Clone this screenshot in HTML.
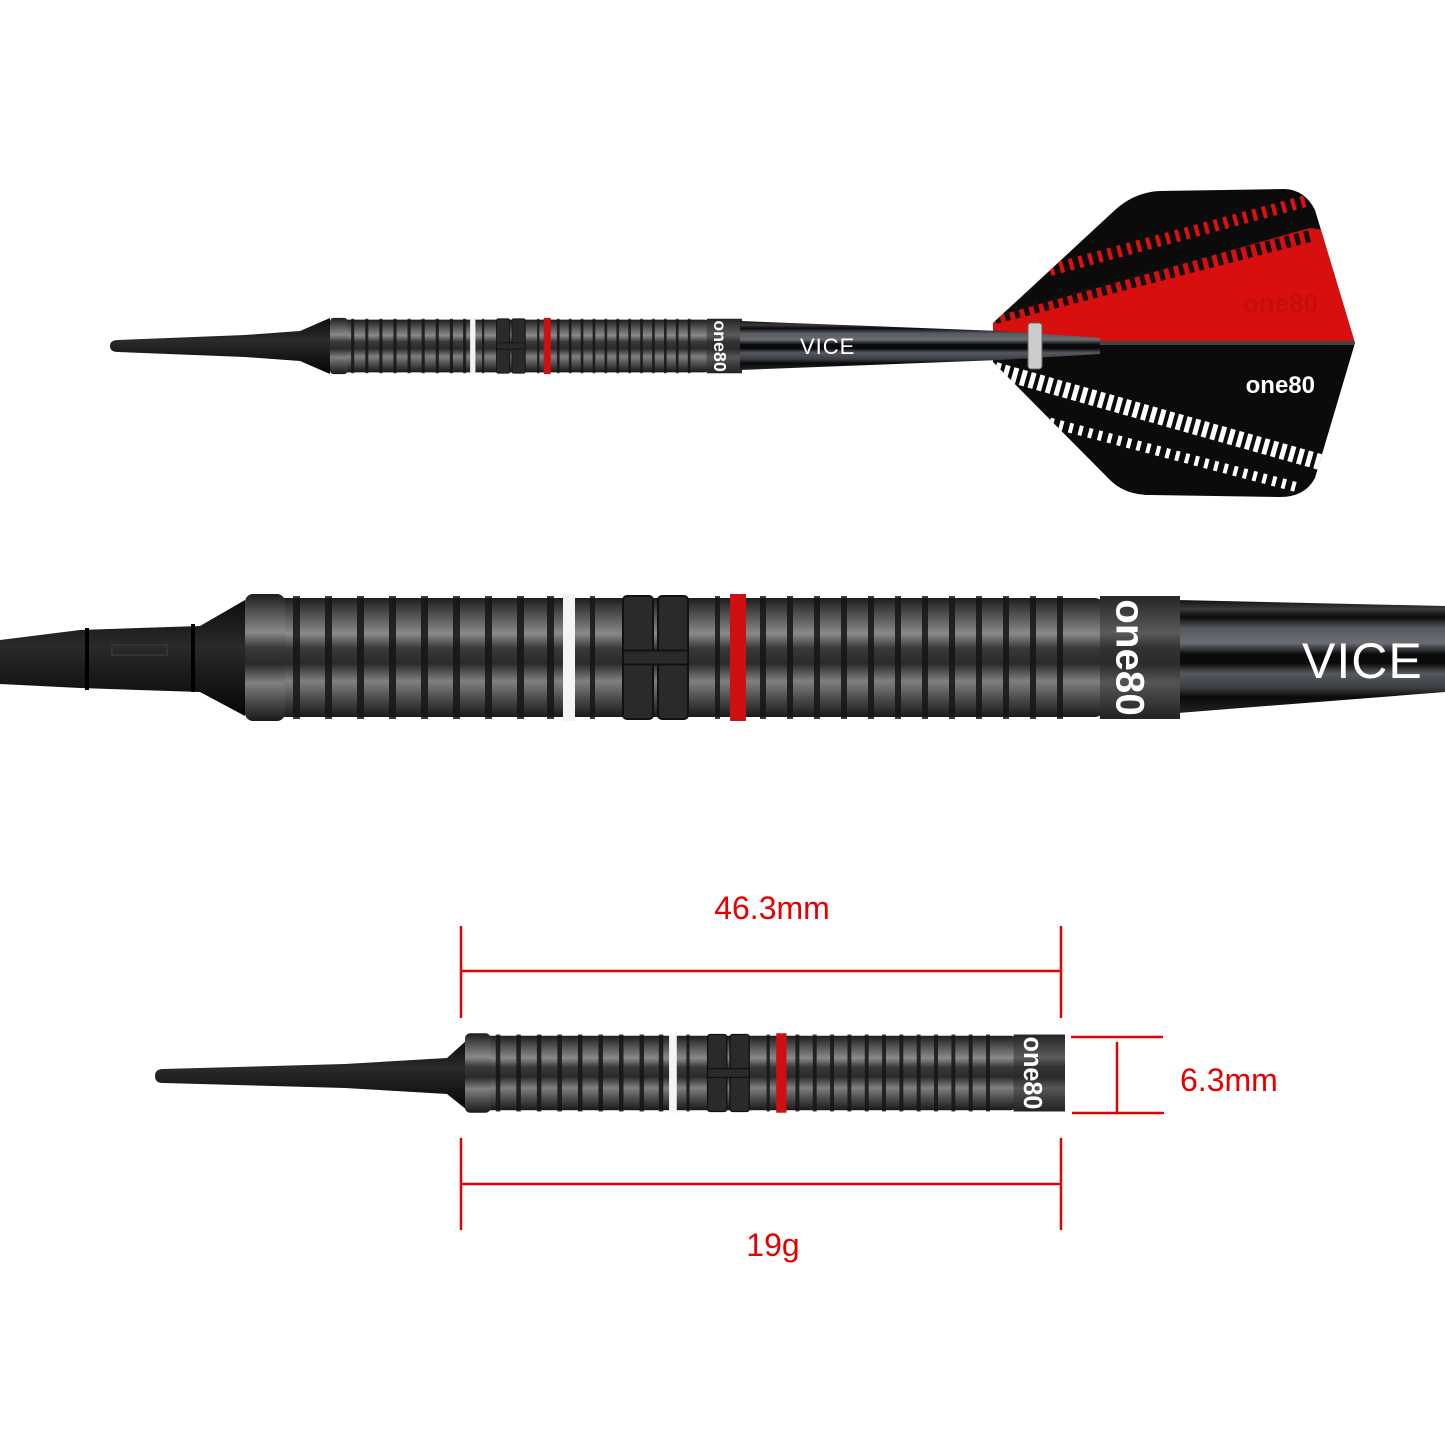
<!DOCTYPE html>
<html><head><meta charset="utf-8"><style>
html,body{margin:0;padding:0;background:#fff;}
svg{display:block;}
</style></head><body>
<svg width="1445" height="1445" viewBox="0 0 1445 1445" xmlns="http://www.w3.org/2000/svg">
<defs>
  <linearGradient id="metal" x1="0" y1="0" x2="0" y2="1">
    <stop offset="0" stop-color="#1e1e1e"/>
    <stop offset="0.12" stop-color="#4a4a4a"/>
    <stop offset="0.3" stop-color="#8a8a8a"/>
    <stop offset="0.42" stop-color="#3a3a3a"/>
    <stop offset="0.55" stop-color="#2a2a2a"/>
    <stop offset="0.7" stop-color="#808080"/>
    <stop offset="0.85" stop-color="#4a4a4a"/>
    <stop offset="1" stop-color="#1a1a1a"/>
  </linearGradient>
  <linearGradient id="shaft" x1="0" y1="0" x2="0" y2="1">
    <stop offset="0" stop-color="#111"/>
    <stop offset="0.08" stop-color="#3a3a3a"/>
    <stop offset="0.15" stop-color="#0a0a0a"/>
    <stop offset="0.25" stop-color="#555a60"/>
    <stop offset="0.38" stop-color="#6a6e72"/>
    <stop offset="0.48" stop-color="#0a0a0a"/>
    <stop offset="0.56" stop-color="#0a0a0a"/>
    <stop offset="0.65" stop-color="#555a60"/>
    <stop offset="0.78" stop-color="#3a3d40"/>
    <stop offset="0.86" stop-color="#0a0a0a"/>
    <stop offset="1" stop-color="#222"/>
  </linearGradient>
  <linearGradient id="tipg" x1="0" y1="0" x2="0" y2="1">
    <stop offset="0" stop-color="#0d0d0d"/>
    <stop offset="0.4" stop-color="#2a2a2a"/>
    <stop offset="1" stop-color="#050505"/>
  </linearGradient>
  <symbol id="barrel" viewBox="0 0 935 130" preserveAspectRatio="none">
    <rect x="0" y="6" width="860" height="118" rx="10" fill="url(#metal)"/>
    <rect x="0" y="2" width="40" height="126" rx="8" fill="url(#metal)"/>
    <g fill="#151515" opacity="0.85">
      <rect x="48" y="4" width="7" height="122"/><rect x="80" y="4" width="7" height="122"/>
      <rect x="112" y="4" width="7" height="122"/><rect x="144" y="4" width="7" height="122"/>
      <rect x="176" y="4" width="7" height="122"/><rect x="208" y="4" width="7" height="122"/>
      <rect x="240" y="4" width="7" height="122"/><rect x="272" y="4" width="7" height="122"/>
      <rect x="302" y="4" width="7" height="122"/>
      <rect x="345" y="4" width="5" height="122"/><rect x="470" y="4" width="5" height="122"/>
      <rect x="515" y="4" width="6" height="122"/><rect x="542" y="4" width="6" height="122"/>
      <rect x="569" y="4" width="6" height="122"/><rect x="596" y="4" width="6" height="122"/>
      <rect x="623" y="4" width="6" height="122"/><rect x="650" y="4" width="6" height="122"/>
      <rect x="677" y="4" width="6" height="122"/><rect x="704" y="4" width="6" height="122"/>
      <rect x="731" y="4" width="6" height="122"/><rect x="758" y="4" width="6" height="122"/>
      <rect x="785" y="4" width="6" height="122"/><rect x="812" y="4" width="6" height="122"/>
    </g>
    <g fill="#2a2a2a" stroke="#111" stroke-width="2">
      <rect x="378" y="4" width="30" height="122" rx="4"/>
      <rect x="413" y="4" width="30" height="122" rx="4"/>
      <rect x="378" y="58" width="65" height="14"/>
    </g>
    <rect x="318" y="2" width="12" height="126" fill="#f4f4f4"/>
    <rect x="485" y="2" width="16" height="126" fill="#d01010"/>
    <rect x="855" y="4" width="80" height="122" fill="#2b2b2b"/>
    <rect x="855" y="4" width="80" height="122" fill="url(#metal)" opacity="0.5"/>
    <text x="0" y="0" transform="translate(882,65) rotate(90)" font-family="Liberation Sans, sans-serif" font-weight="bold" font-size="40" fill="#fff" text-anchor="middle" dominant-baseline="middle">one80</text>
  </symbol>
  <clipPath id="flightclip">
    <path d="M993,323 L1115,210 Q1135,192 1160,191 L1285,189 Q1305,190 1315,210 L1355,343 L1315,478 Q1305,497 1280,497 L1150,495 Q1125,495 1110,480 L993,362 Z"/>
  </clipPath>
</defs>

<g clip-path="url(#flightclip)">
  <rect x="990" y="185" width="370" height="320" fill="#0b0b0b"/>
  <polygon points="990,318 1310,228 1360,235 1360,343 990,343" fill="#d80f0f"/>
  <line x1="1050" y1="270" x2="1310" y2="200" stroke="#e01010" stroke-width="12" stroke-dasharray="4 6"/>
  <line x1="995" y1="318" x2="1310" y2="236" stroke="#111" stroke-width="12" stroke-dasharray="5 5"/>
  <line x1="995" y1="370" x2="1320" y2="462" stroke="#fff" stroke-width="16" stroke-dasharray="5 4"/>
  <line x1="1040" y1="420" x2="1300" y2="488" stroke="#fff" stroke-width="10" stroke-dasharray="4 6"/>
  <text x="1315" y="393" font-family="Liberation Sans, sans-serif" font-weight="bold" font-size="24" fill="#fff" text-anchor="end">one80</text>
  <text x="1318" y="312" font-family="Liberation Sans, sans-serif" font-weight="bold" font-size="26" fill="#c80c0c" text-anchor="end">one80</text>
  <rect x="990" y="341" width="370" height="4" fill="#444"/>
</g>
<path d="M110,346 Q110,340 118,340 L245,335 L300,331 L330,318 L330,374 L300,361 L245,357 L118,352 Q110,352 110,346 Z" fill="url(#tipg)"/>
<use href="#barrel" x="330" y="317" width="412" height="58"/>
<path d="M740,321 L1000,331 L1100,338 L1100,354 L1000,360 L740,370 Z" fill="url(#shaft)"/>
<rect x="1028" y="323" width="14" height="46" rx="3" fill="#ccc" stroke="#666"/>
<text x="800" y="354" font-family="Liberation Sans, sans-serif" font-size="22" fill="#fff" letter-spacing="1">VICE</text>

<path d="M0,640 L80,630 L200,626 L245,600 L245,716 L200,692 L80,688 L0,684 Z" fill="url(#tipg)"/>
<g fill="none" stroke="#000" stroke-width="4">
  <line x1="87" y1="628" x2="87" y2="690"/><line x1="193" y1="624" x2="193" y2="692"/>
</g>
<rect x="112" y="645" width="55" height="10" fill="none" stroke="#333" stroke-width="2"/>
<path d="M1178,600 L1445,606 L1445,692 L1178,713 Z" fill="url(#shaft)"/>
<use href="#barrel" x="245" y="592" width="935" height="131"/>
<text x="1302" y="678" font-family="Liberation Sans, sans-serif" font-size="50" fill="#fff" letter-spacing="1">VICE</text>

<path d="M155,1076 Q155,1069 163,1069 L345,1064 L447,1058 L467,1040 L467,1110 L447,1094 L345,1088 L163,1083 Q155,1083 155,1076 Z" fill="url(#tipg)"/>
<use href="#barrel" x="465" y="1032" width="600" height="82"/>

<g stroke="#e60000" stroke-width="2.5">
  <line x1="461" y1="926" x2="461" y2="1018"/>
  <line x1="1061" y1="926" x2="1061" y2="1018"/>
  <line x1="461" y1="971" x2="1061" y2="971"/>
  <line x1="461" y1="1138" x2="461" y2="1230"/>
  <line x1="1061" y1="1138" x2="1061" y2="1230"/>
  <line x1="461" y1="1184" x2="1061" y2="1184"/>
  <line x1="1071" y1="1037" x2="1163" y2="1037"/>
  <line x1="1072" y1="1113" x2="1164" y2="1113"/>
  <line x1="1117" y1="1042" x2="1117" y2="1113"/>
</g>
<g font-family="Liberation Sans, sans-serif" font-size="32" fill="#e60000">
  <text x="772" y="919" text-anchor="middle">46.3mm</text>
  <text x="773" y="1256" text-anchor="middle">19g</text>
  <text x="1180" y="1091">6.3mm</text>
</g>
</svg>
</body></html>
